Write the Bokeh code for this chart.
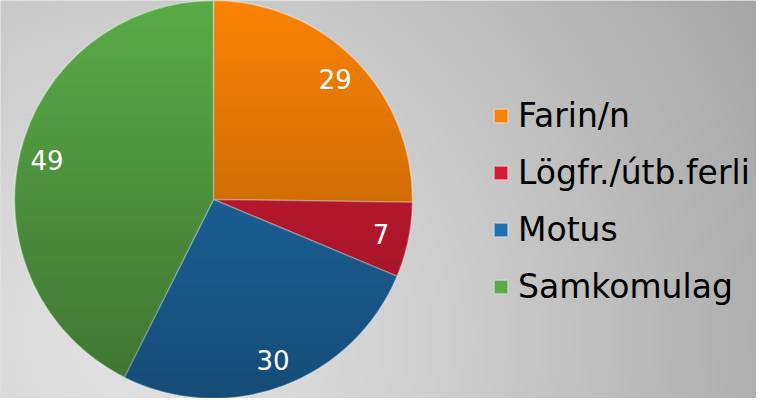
import numpy as np
from bokeh.plotting import figure
from bokeh.models import ColumnDataSource, Legend, LegendItem
from bokeh.core.properties import value
from bokeh.embed import file_html
from bokeh.resources import INLINE

# ---- data ----
categories = ["Farin/n", "Lögfr./útb.ferli", "Motus", "Samkomulag"]
counts = [29, 7, 30, 49]
colors = ["#f98206", "#d61c35", "#1f70ae", "#5aab48"]

W, H = 756, 398
p = figure(width=W, height=H, x_range=(0, W), y_range=(0, H),
           output_backend="svg", toolbar_location=None, min_border=0)
p.axis.visible = False
p.grid.visible = False
p.outline_line_color = None
p.background_fill_color = "#cccccc"
p.border_fill_color = "#cccccc"

# background gradient (decoration)
nx, ny = 189, 100
xs = np.linspace(0, W, nx)
ys = np.linspace(0, H, ny)
X, Y = np.meshgrid(xs, ys)
d = np.sqrt((X - 140) ** 2 + (Y - 60) ** 2) / 700.0
g = np.clip(226 - 60 * d ** 1.3, 0, 255).astype(np.uint32)
img = (255 << 24) | (g << 16) | (g << 8) | g
p.image_rgba(image=[img.astype(np.uint32)], x=0, y=0, dw=W, dh=H)

# pie
cx, cy, R = 213, 199, 199
total = sum(counts)
fr = np.array(counts) / total
ang = fr * 2 * np.pi
start = np.pi / 2 - np.concatenate([[0], np.cumsum(ang)[:-1]])
end = start - ang
mid = (start + end) / 2
lr = 0.86 * R
src = ColumnDataSource(dict(
    cat=categories, val=counts, color=colors,
    start=start, end=end,
    lx=cx + lr * np.cos(mid), ly=cy + lr * np.sin(mid),
    txt=[str(v) for v in counts],
))
w = p.wedge(x=cx, y=cy, radius=R, start_angle="end", end_angle="start",
            fill_color="color", line_color="#ffffff", line_alpha=0.35, line_width=1.5,
            source=src)

# vertical shading overlay on the pie (decoration): darker towards the bottom
n = 2 * R
px = np.arange(n) + 0.5 - R
PX, PY = np.meshgrid(px, px)   # image row 0 is drawn at the bottom
rr = np.sqrt(PX ** 2 + PY ** 2)
inside = np.clip(R - rr, 0, 1)
t = (R - PY) / (2 * R)  # 1 at bottom, 0 at top
alpha = (inside * 0.32 * t * 255).astype(np.uint32)
ov = (alpha << 24)
p.image_rgba(image=[ov.astype(np.uint32)], x=cx - R, y=cy - R, dw=n, dh=n)

p.text(x="lx", y="ly", text="txt", source=src, text_color="white",
       text_font=value("DejaVu Sans"), text_font_size="26px",
       text_align="center", text_baseline="middle")

legend = Legend(items=[LegendItem(label=c, renderers=[w], index=i) for i, c in enumerate(categories)],
                location=(492, 92), orientation="vertical",
                background_fill_alpha=0, border_line_alpha=0,
                label_text_font="DejaVu Sans", label_text_font_size="33px",
                label_text_color="#000000",
                glyph_width=17, glyph_height=17, label_standoff=9,
                label_height=30, spacing=18, padding=0, margin=0)
p.add_layout(legend, "center")

open("out.html", "w").write(file_html(p, INLINE))
